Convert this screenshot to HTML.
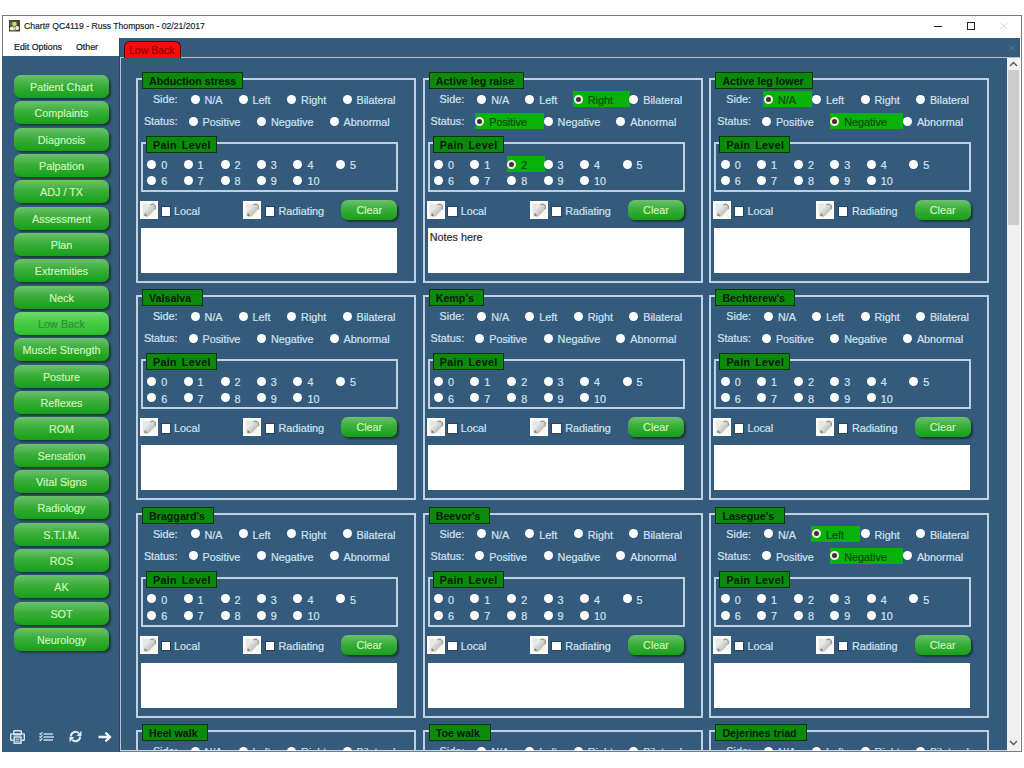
<!DOCTYPE html><html><head><meta charset="utf-8"><style>
*{margin:0;padding:0;box-sizing:border-box}
html,body{width:1024px;height:768px;overflow:hidden;background:#fff;font-family:"Liberation Sans",sans-serif}
.a{position:absolute}
.t{position:absolute;white-space:nowrap;font-size:10.8px;color:#d2e2f0;line-height:12px;-webkit-text-stroke:0.2px currentColor}
.gb{position:absolute;border:2px solid #bdd1e2}
.hd{position:absolute;background:#0b8a0b;border:1px solid #073607;font-weight:bold;font-size:10.7px;color:#031a03;line-height:16.4px;white-space:nowrap;padding-left:6px}
.r{position:absolute;width:9px;height:9px;border-radius:50%;background:#fff}
.rs{position:absolute;width:9px;height:9px;border-radius:50%;background:#3a2f36;border:2px solid #f4f0e0}
.hl{position:absolute;background:#08b208;height:16.6px}
.tk{color:#084a08}
.cl{border-radius:9px;box-shadow:2px 1.5px 1.5px #122a2a;color:#d0f6c0;font-size:11px}
.nb{position:absolute;left:14px;width:95px;height:23px;border-radius:7px;background:linear-gradient(#6cc16c,#3aae3a 45%,#16a018);box-shadow:2px 2px 2px #1c3a38;color:#d2f8bc;font-size:10.8px;text-align:center;line-height:24.4px;white-space:nowrap;-webkit-text-stroke:0.15px currentColor}
.cb{position:absolute;width:8.5px;height:8.5px;background:#fff;box-shadow:0 0 0 1px #2b4258}
.pen{position:absolute;width:18px;height:18px;background:#fcfcfc}
.nt{position:absolute;background:#fff}
</style></head><body><div class="a" style="left:2px;top:15px;width:1020px;height:737px;border:1px solid #7a7a80;background:#fff"></div>
<svg class="a" style="left:9px;top:20px" width="11" height="12"><rect x="0" y="0" width="11" height="11.5" fill="#4e4226"/><rect x="1" y="1.5" width="3" height="4" fill="#6a5a90"/><circle cx="5.5" cy="4" r="2.3" fill="#c8e060"/><ellipse cx="3" cy="8.6" rx="2.2" ry="2" fill="#eef0e0"/><ellipse cx="8.2" cy="8" rx="1.8" ry="2" fill="#f4f4f0"/><rect x="4.5" y="6.5" width="2" height="4" fill="#c0c8b0"/></svg>
<div class="t" style="left:24px;top:20.2px;font-size:9.8px;color:#1e1e1e;transform:scaleX(0.88);transform-origin:0 0">Chart# QC4119 - Russ Thompson - 02/21/2017</div>
<div class="a" style="left:934px;top:26px;width:8px;height:1px;background:#222"></div>
<div class="a" style="left:967px;top:22px;width:8px;height:8px;border:1px solid #222"></div>
<svg class="a" style="left:1000px;top:22px" width="8" height="8"><path d="M0.5 0.5L7 7M7 0.5L0.5 7" stroke="#d4d4d4" stroke-width="1"/></svg>
<div class="t" style="left:13.5px;top:41px;font-size:9.8px;color:#141414;transform:scaleX(0.9);transform-origin:0 0">Edit Options</div>
<div class="t" style="left:75.5px;top:41px;font-size:9.8px;color:#141414;transform:scaleX(0.9);transform-origin:0 0">Other</div>
<div class="a" style="left:2px;top:55.5px;width:117px;height:696.5px;background:#345b7c"></div>
<div class="a" style="left:119px;top:38px;width:1px;height:714px;background:#2a4660"></div>
<div class="a" style="left:120px;top:38px;width:900px;height:20px;background:#345b7c"></div>
<div class="a" style="left:120px;top:57px;width:900px;height:1px;background:#c8b8c0"></div>
<div class="a" style="left:124px;top:41px;width:57px;height:17px;background:#ff0a0a;border:1px solid #5a0000;border-bottom:none;border-radius:6px 6px 0 0"></div>
<div class="t" style="left:129px;top:43.6px;color:#8a0000;font-size:10.5px">Low Back</div>
<div class="a" style="left:120px;top:58px;width:887px;height:693px;background:#345b7c;overflow:hidden" id="content">
<div class="a" style="left:0;top:0;width:1px;height:693px;background:#b8c4d0"></div>
<div class="a" style="left:0;top:692px;width:887px;height:1px;background:#c8d8e8"></div>
<div class="gb" style="left:16.0px;top:20.0px;width:280px;height:205px"></div>
<div class="hd" style="left:22.0px;top:14.0px;width:101px;height:17px">Abduction stress</div>
<div class="t" style="left:16.0px;top:35.0px;width:41.5px;text-align:right">Side:</div>
<div class="t" style="left:16.0px;top:57.0px;width:41.5px;text-align:right">Status:</div>
<div class="r" style="left:70.5px;top:36.5px"></div>
<div class="t" style="left:84.5px;top:36.0px">N/A</div>
<div class="r" style="left:118.5px;top:36.5px"></div>
<div class="t" style="left:132.5px;top:36.0px">Left</div>
<div class="r" style="left:167.1px;top:36.5px"></div>
<div class="t" style="left:181.1px;top:36.0px">Right</div>
<div class="r" style="left:222.5px;top:36.5px"></div>
<div class="t" style="left:236.5px;top:36.0px">Bilateral</div>
<div class="r" style="left:68.5px;top:58.5px"></div>
<div class="t" style="left:82.5px;top:58.0px">Positive</div>
<div class="r" style="left:136.9px;top:58.5px"></div>
<div class="t" style="left:150.9px;top:58.0px">Negative</div>
<div class="r" style="left:209.5px;top:58.5px"></div>
<div class="t" style="left:223.5px;top:58.0px">Abnormal</div>
<div class="gb" style="left:21.0px;top:84.0px;width:257px;height:50px"></div>
<div class="hd" style="left:26.0px;top:78.0px;width:71px;height:17px;word-spacing:1.5px;letter-spacing:0.35px">Pain Level</div>
<div class="r" style="left:27.3px;top:101.5px"></div>
<div class="t" style="left:41.3px;top:101.0px">0</div>
<div class="r" style="left:63.5px;top:101.5px"></div>
<div class="t" style="left:77.5px;top:101.0px">1</div>
<div class="r" style="left:100.5px;top:101.5px"></div>
<div class="t" style="left:114.5px;top:101.0px">2</div>
<div class="r" style="left:136.8px;top:101.5px"></div>
<div class="t" style="left:150.8px;top:101.0px">3</div>
<div class="r" style="left:173.4px;top:101.5px"></div>
<div class="t" style="left:187.4px;top:101.0px">4</div>
<div class="r" style="left:215.9px;top:101.5px"></div>
<div class="t" style="left:229.9px;top:101.0px">5</div>
<div class="r" style="left:27.3px;top:117.8px"></div>
<div class="t" style="left:41.3px;top:117.3px">6</div>
<div class="r" style="left:63.5px;top:117.8px"></div>
<div class="t" style="left:77.5px;top:117.3px">7</div>
<div class="r" style="left:100.5px;top:117.8px"></div>
<div class="t" style="left:114.5px;top:117.3px">8</div>
<div class="r" style="left:136.8px;top:117.8px"></div>
<div class="t" style="left:150.8px;top:117.3px">9</div>
<div class="r" style="left:173.4px;top:117.8px"></div>
<div class="t" style="left:187.4px;top:117.3px">10</div>
<div class="pen" style="left:20.0px;top:143.0px"><svg width="18" height="18"><defs><linearGradient id="pg" x1="0" y1="0" x2="0" y2="1"><stop offset="0" stop-color="#e4e6e4"/><stop offset="1" stop-color="#c0beb6"/></linearGradient><linearGradient id="pb" x1="0" y1="0" x2="1" y2="1"><stop offset="0" stop-color="#e2e4e2"/><stop offset="1" stop-color="#fafaf8"/></linearGradient></defs><rect x="2.5" y="2.5" width="13.5" height="13" fill="url(#pb)"/><g transform="rotate(-47 9.5 9.5)"><path d="M2 9.5Q2 6.2 6 6.2L14.5 6.2Q17 6.5 17 9.5Q17 12.5 14.5 12.8L6 12.8Q2 12.8 2 9.5Z" fill="url(#pg)"/><path d="M14 6.4Q17 6.8 17 9.5Q17 12.2 14 12.6" stroke="#9a9588" stroke-width="1" fill="none"/><path d="M2 9.5L4.4 7.8L4.4 11.2Z" fill="#7e7a6e"/></g></svg></div>
<div class="cb" style="left:41.5px;top:149.0px"></div>
<div class="t" style="left:54.0px;top:147.0px">Local</div>
<div class="pen" style="left:123.0px;top:143.0px"><svg width="18" height="18"><defs><linearGradient id="pg" x1="0" y1="0" x2="0" y2="1"><stop offset="0" stop-color="#e4e6e4"/><stop offset="1" stop-color="#c0beb6"/></linearGradient><linearGradient id="pb" x1="0" y1="0" x2="1" y2="1"><stop offset="0" stop-color="#e2e4e2"/><stop offset="1" stop-color="#fafaf8"/></linearGradient></defs><rect x="2.5" y="2.5" width="13.5" height="13" fill="url(#pb)"/><g transform="rotate(-47 9.5 9.5)"><path d="M2 9.5Q2 6.2 6 6.2L14.5 6.2Q17 6.5 17 9.5Q17 12.5 14.5 12.8L6 12.8Q2 12.8 2 9.5Z" fill="url(#pg)"/><path d="M14 6.4Q17 6.8 17 9.5Q17 12.2 14 12.6" stroke="#9a9588" stroke-width="1" fill="none"/><path d="M2 9.5L4.4 7.8L4.4 11.2Z" fill="#7e7a6e"/></g></svg></div>
<div class="cb" style="left:145.5px;top:149.0px"></div>
<div class="t" style="left:158.5px;top:147.0px">Radiating</div>
<div class="nb cl" style="left:221.3px;top:142.0px;width:56px;height:20px;line-height:20px">Clear</div>
<div class="nt" style="left:21.0px;top:170.0px;width:256px;height:45px"><div class="t" style="left:2px;top:3px;color:#2a2a2a"></div></div>
<div class="gb" style="left:302.7px;top:20.0px;width:280px;height:205px"></div>
<div class="hd" style="left:308.7px;top:14.0px;width:95.5px;height:17px">Active leg raise</div>
<div class="t" style="left:302.7px;top:35.0px;width:41.5px;text-align:right">Side:</div>
<div class="t" style="left:302.7px;top:57.0px;width:41.5px;text-align:right">Status:</div>
<div class="r" style="left:357.2px;top:36.5px"></div>
<div class="t" style="left:371.2px;top:36.0px">N/A</div>
<div class="r" style="left:405.2px;top:36.5px"></div>
<div class="t" style="left:419.2px;top:36.0px">Left</div>
<div class="hl" style="left:453.29999999999995px;top:32.8px;width:56.6px"></div>
<div class="rs" style="left:453.79999999999995px;top:36.5px"></div>
<div class="t tk" style="left:467.79999999999995px;top:36.0px">Right</div>
<div class="r" style="left:509.20000000000005px;top:36.5px"></div>
<div class="t" style="left:523.2px;top:36.0px">Bilateral</div>
<div class="hl" style="left:354.7px;top:54.8px;width:69.5px"></div>
<div class="rs" style="left:355.2px;top:58.5px"></div>
<div class="t tk" style="left:369.2px;top:58.0px">Positive</div>
<div class="r" style="left:423.6px;top:58.5px"></div>
<div class="t" style="left:437.6px;top:58.0px">Negative</div>
<div class="r" style="left:496.2px;top:58.5px"></div>
<div class="t" style="left:510.2px;top:58.0px">Abnormal</div>
<div class="gb" style="left:307.7px;top:84.0px;width:257px;height:50px"></div>
<div class="hd" style="left:312.7px;top:78.0px;width:71px;height:17px;word-spacing:1.5px;letter-spacing:0.35px">Pain Level</div>
<div class="r" style="left:314.0px;top:101.5px"></div>
<div class="t" style="left:328.0px;top:101.0px">0</div>
<div class="r" style="left:350.2px;top:101.5px"></div>
<div class="t" style="left:364.2px;top:101.0px">1</div>
<div class="hl" style="left:386.7px;top:97.8px;width:38px"></div>
<div class="rs" style="left:387.2px;top:101.5px"></div>
<div class="t tk" style="left:401.2px;top:101.0px">2</div>
<div class="r" style="left:423.5px;top:101.5px"></div>
<div class="t" style="left:437.5px;top:101.0px">3</div>
<div class="r" style="left:460.1px;top:101.5px"></div>
<div class="t" style="left:474.1px;top:101.0px">4</div>
<div class="r" style="left:502.6px;top:101.5px"></div>
<div class="t" style="left:516.6px;top:101.0px">5</div>
<div class="r" style="left:314.0px;top:117.8px"></div>
<div class="t" style="left:328.0px;top:117.3px">6</div>
<div class="r" style="left:350.2px;top:117.8px"></div>
<div class="t" style="left:364.2px;top:117.3px">7</div>
<div class="r" style="left:387.2px;top:117.8px"></div>
<div class="t" style="left:401.2px;top:117.3px">8</div>
<div class="r" style="left:423.5px;top:117.8px"></div>
<div class="t" style="left:437.5px;top:117.3px">9</div>
<div class="r" style="left:460.1px;top:117.8px"></div>
<div class="t" style="left:474.1px;top:117.3px">10</div>
<div class="pen" style="left:306.7px;top:143.0px"><svg width="18" height="18"><defs><linearGradient id="pg" x1="0" y1="0" x2="0" y2="1"><stop offset="0" stop-color="#e4e6e4"/><stop offset="1" stop-color="#c0beb6"/></linearGradient><linearGradient id="pb" x1="0" y1="0" x2="1" y2="1"><stop offset="0" stop-color="#e2e4e2"/><stop offset="1" stop-color="#fafaf8"/></linearGradient></defs><rect x="2.5" y="2.5" width="13.5" height="13" fill="url(#pb)"/><g transform="rotate(-47 9.5 9.5)"><path d="M2 9.5Q2 6.2 6 6.2L14.5 6.2Q17 6.5 17 9.5Q17 12.5 14.5 12.8L6 12.8Q2 12.8 2 9.5Z" fill="url(#pg)"/><path d="M14 6.4Q17 6.8 17 9.5Q17 12.2 14 12.6" stroke="#9a9588" stroke-width="1" fill="none"/><path d="M2 9.5L4.4 7.8L4.4 11.2Z" fill="#7e7a6e"/></g></svg></div>
<div class="cb" style="left:328.2px;top:149.0px"></div>
<div class="t" style="left:340.7px;top:147.0px">Local</div>
<div class="pen" style="left:409.7px;top:143.0px"><svg width="18" height="18"><defs><linearGradient id="pg" x1="0" y1="0" x2="0" y2="1"><stop offset="0" stop-color="#e4e6e4"/><stop offset="1" stop-color="#c0beb6"/></linearGradient><linearGradient id="pb" x1="0" y1="0" x2="1" y2="1"><stop offset="0" stop-color="#e2e4e2"/><stop offset="1" stop-color="#fafaf8"/></linearGradient></defs><rect x="2.5" y="2.5" width="13.5" height="13" fill="url(#pb)"/><g transform="rotate(-47 9.5 9.5)"><path d="M2 9.5Q2 6.2 6 6.2L14.5 6.2Q17 6.5 17 9.5Q17 12.5 14.5 12.8L6 12.8Q2 12.8 2 9.5Z" fill="url(#pg)"/><path d="M14 6.4Q17 6.8 17 9.5Q17 12.2 14 12.6" stroke="#9a9588" stroke-width="1" fill="none"/><path d="M2 9.5L4.4 7.8L4.4 11.2Z" fill="#7e7a6e"/></g></svg></div>
<div class="cb" style="left:432.2px;top:149.0px"></div>
<div class="t" style="left:445.2px;top:147.0px">Radiating</div>
<div class="nb cl" style="left:508.0px;top:142.0px;width:56px;height:20px;line-height:20px">Clear</div>
<div class="nt" style="left:307.7px;top:170.0px;width:256px;height:45px"><div class="t" style="left:2px;top:3px;color:#2a2a2a">Notes here</div></div>
<div class="gb" style="left:589.4px;top:20.0px;width:280px;height:205px"></div>
<div class="hd" style="left:595.4px;top:14.0px;width:97.5px;height:17px">Active leg lower</div>
<div class="t" style="left:589.4px;top:35.0px;width:41.5px;text-align:right">Side:</div>
<div class="t" style="left:589.4px;top:57.0px;width:41.5px;text-align:right">Status:</div>
<div class="hl" style="left:643.4px;top:32.8px;width:48.5px"></div>
<div class="rs" style="left:643.9px;top:36.5px"></div>
<div class="t tk" style="left:657.9px;top:36.0px">N/A</div>
<div class="r" style="left:691.9px;top:36.5px"></div>
<div class="t" style="left:705.9px;top:36.0px">Left</div>
<div class="r" style="left:740.5px;top:36.5px"></div>
<div class="t" style="left:754.5px;top:36.0px">Right</div>
<div class="r" style="left:795.9px;top:36.5px"></div>
<div class="t" style="left:809.9px;top:36.0px">Bilateral</div>
<div class="r" style="left:641.9px;top:58.5px"></div>
<div class="t" style="left:655.9px;top:58.0px">Positive</div>
<div class="hl" style="left:709.8px;top:54.8px;width:73px"></div>
<div class="rs" style="left:710.3px;top:58.5px"></div>
<div class="t tk" style="left:724.3px;top:58.0px">Negative</div>
<div class="r" style="left:782.9px;top:58.5px"></div>
<div class="t" style="left:796.9px;top:58.0px">Abnormal</div>
<div class="gb" style="left:594.4px;top:84.0px;width:257px;height:50px"></div>
<div class="hd" style="left:599.4px;top:78.0px;width:71px;height:17px;word-spacing:1.5px;letter-spacing:0.35px">Pain Level</div>
<div class="r" style="left:600.6999999999999px;top:101.5px"></div>
<div class="t" style="left:614.6999999999999px;top:101.0px">0</div>
<div class="r" style="left:636.9px;top:101.5px"></div>
<div class="t" style="left:650.9px;top:101.0px">1</div>
<div class="r" style="left:673.9px;top:101.5px"></div>
<div class="t" style="left:687.9px;top:101.0px">2</div>
<div class="r" style="left:710.1999999999999px;top:101.5px"></div>
<div class="t" style="left:724.1999999999999px;top:101.0px">3</div>
<div class="r" style="left:746.8px;top:101.5px"></div>
<div class="t" style="left:760.8px;top:101.0px">4</div>
<div class="r" style="left:789.3px;top:101.5px"></div>
<div class="t" style="left:803.3px;top:101.0px">5</div>
<div class="r" style="left:600.6999999999999px;top:117.8px"></div>
<div class="t" style="left:614.6999999999999px;top:117.3px">6</div>
<div class="r" style="left:636.9px;top:117.8px"></div>
<div class="t" style="left:650.9px;top:117.3px">7</div>
<div class="r" style="left:673.9px;top:117.8px"></div>
<div class="t" style="left:687.9px;top:117.3px">8</div>
<div class="r" style="left:710.1999999999999px;top:117.8px"></div>
<div class="t" style="left:724.1999999999999px;top:117.3px">9</div>
<div class="r" style="left:746.8px;top:117.8px"></div>
<div class="t" style="left:760.8px;top:117.3px">10</div>
<div class="pen" style="left:593.4px;top:143.0px"><svg width="18" height="18"><defs><linearGradient id="pg" x1="0" y1="0" x2="0" y2="1"><stop offset="0" stop-color="#e4e6e4"/><stop offset="1" stop-color="#c0beb6"/></linearGradient><linearGradient id="pb" x1="0" y1="0" x2="1" y2="1"><stop offset="0" stop-color="#e2e4e2"/><stop offset="1" stop-color="#fafaf8"/></linearGradient></defs><rect x="2.5" y="2.5" width="13.5" height="13" fill="url(#pb)"/><g transform="rotate(-47 9.5 9.5)"><path d="M2 9.5Q2 6.2 6 6.2L14.5 6.2Q17 6.5 17 9.5Q17 12.5 14.5 12.8L6 12.8Q2 12.8 2 9.5Z" fill="url(#pg)"/><path d="M14 6.4Q17 6.8 17 9.5Q17 12.2 14 12.6" stroke="#9a9588" stroke-width="1" fill="none"/><path d="M2 9.5L4.4 7.8L4.4 11.2Z" fill="#7e7a6e"/></g></svg></div>
<div class="cb" style="left:614.9px;top:149.0px"></div>
<div class="t" style="left:627.4px;top:147.0px">Local</div>
<div class="pen" style="left:696.4px;top:143.0px"><svg width="18" height="18"><defs><linearGradient id="pg" x1="0" y1="0" x2="0" y2="1"><stop offset="0" stop-color="#e4e6e4"/><stop offset="1" stop-color="#c0beb6"/></linearGradient><linearGradient id="pb" x1="0" y1="0" x2="1" y2="1"><stop offset="0" stop-color="#e2e4e2"/><stop offset="1" stop-color="#fafaf8"/></linearGradient></defs><rect x="2.5" y="2.5" width="13.5" height="13" fill="url(#pb)"/><g transform="rotate(-47 9.5 9.5)"><path d="M2 9.5Q2 6.2 6 6.2L14.5 6.2Q17 6.5 17 9.5Q17 12.5 14.5 12.8L6 12.8Q2 12.8 2 9.5Z" fill="url(#pg)"/><path d="M14 6.4Q17 6.8 17 9.5Q17 12.2 14 12.6" stroke="#9a9588" stroke-width="1" fill="none"/><path d="M2 9.5L4.4 7.8L4.4 11.2Z" fill="#7e7a6e"/></g></svg></div>
<div class="cb" style="left:718.9px;top:149.0px"></div>
<div class="t" style="left:731.9px;top:147.0px">Radiating</div>
<div class="nb cl" style="left:794.7px;top:142.0px;width:56px;height:20px;line-height:20px">Clear</div>
<div class="nt" style="left:594.4px;top:170.0px;width:256px;height:45px"><div class="t" style="left:2px;top:3px;color:#2a2a2a"></div></div>
<div class="gb" style="left:16.0px;top:237.3px;width:280px;height:205px"></div>
<div class="hd" style="left:22.0px;top:231.3px;width:61px;height:17px">Valsalva</div>
<div class="t" style="left:16.0px;top:252.3px;width:41.5px;text-align:right">Side:</div>
<div class="t" style="left:16.0px;top:274.3px;width:41.5px;text-align:right">Status:</div>
<div class="r" style="left:70.5px;top:253.8px"></div>
<div class="t" style="left:84.5px;top:253.3px">N/A</div>
<div class="r" style="left:118.5px;top:253.8px"></div>
<div class="t" style="left:132.5px;top:253.3px">Left</div>
<div class="r" style="left:167.1px;top:253.8px"></div>
<div class="t" style="left:181.1px;top:253.3px">Right</div>
<div class="r" style="left:222.5px;top:253.8px"></div>
<div class="t" style="left:236.5px;top:253.3px">Bilateral</div>
<div class="r" style="left:68.5px;top:275.8px"></div>
<div class="t" style="left:82.5px;top:275.3px">Positive</div>
<div class="r" style="left:136.9px;top:275.8px"></div>
<div class="t" style="left:150.9px;top:275.3px">Negative</div>
<div class="r" style="left:209.5px;top:275.8px"></div>
<div class="t" style="left:223.5px;top:275.3px">Abnormal</div>
<div class="gb" style="left:21.0px;top:301.3px;width:257px;height:50px"></div>
<div class="hd" style="left:26.0px;top:295.3px;width:71px;height:17px;word-spacing:1.5px;letter-spacing:0.35px">Pain Level</div>
<div class="r" style="left:27.3px;top:318.8px"></div>
<div class="t" style="left:41.3px;top:318.3px">0</div>
<div class="r" style="left:63.5px;top:318.8px"></div>
<div class="t" style="left:77.5px;top:318.3px">1</div>
<div class="r" style="left:100.5px;top:318.8px"></div>
<div class="t" style="left:114.5px;top:318.3px">2</div>
<div class="r" style="left:136.8px;top:318.8px"></div>
<div class="t" style="left:150.8px;top:318.3px">3</div>
<div class="r" style="left:173.4px;top:318.8px"></div>
<div class="t" style="left:187.4px;top:318.3px">4</div>
<div class="r" style="left:215.9px;top:318.8px"></div>
<div class="t" style="left:229.9px;top:318.3px">5</div>
<div class="r" style="left:27.3px;top:335.1px"></div>
<div class="t" style="left:41.3px;top:334.6px">6</div>
<div class="r" style="left:63.5px;top:335.1px"></div>
<div class="t" style="left:77.5px;top:334.6px">7</div>
<div class="r" style="left:100.5px;top:335.1px"></div>
<div class="t" style="left:114.5px;top:334.6px">8</div>
<div class="r" style="left:136.8px;top:335.1px"></div>
<div class="t" style="left:150.8px;top:334.6px">9</div>
<div class="r" style="left:173.4px;top:335.1px"></div>
<div class="t" style="left:187.4px;top:334.6px">10</div>
<div class="pen" style="left:20.0px;top:360.3px"><svg width="18" height="18"><defs><linearGradient id="pg" x1="0" y1="0" x2="0" y2="1"><stop offset="0" stop-color="#e4e6e4"/><stop offset="1" stop-color="#c0beb6"/></linearGradient><linearGradient id="pb" x1="0" y1="0" x2="1" y2="1"><stop offset="0" stop-color="#e2e4e2"/><stop offset="1" stop-color="#fafaf8"/></linearGradient></defs><rect x="2.5" y="2.5" width="13.5" height="13" fill="url(#pb)"/><g transform="rotate(-47 9.5 9.5)"><path d="M2 9.5Q2 6.2 6 6.2L14.5 6.2Q17 6.5 17 9.5Q17 12.5 14.5 12.8L6 12.8Q2 12.8 2 9.5Z" fill="url(#pg)"/><path d="M14 6.4Q17 6.8 17 9.5Q17 12.2 14 12.6" stroke="#9a9588" stroke-width="1" fill="none"/><path d="M2 9.5L4.4 7.8L4.4 11.2Z" fill="#7e7a6e"/></g></svg></div>
<div class="cb" style="left:41.5px;top:366.3px"></div>
<div class="t" style="left:54.0px;top:364.3px">Local</div>
<div class="pen" style="left:123.0px;top:360.3px"><svg width="18" height="18"><defs><linearGradient id="pg" x1="0" y1="0" x2="0" y2="1"><stop offset="0" stop-color="#e4e6e4"/><stop offset="1" stop-color="#c0beb6"/></linearGradient><linearGradient id="pb" x1="0" y1="0" x2="1" y2="1"><stop offset="0" stop-color="#e2e4e2"/><stop offset="1" stop-color="#fafaf8"/></linearGradient></defs><rect x="2.5" y="2.5" width="13.5" height="13" fill="url(#pb)"/><g transform="rotate(-47 9.5 9.5)"><path d="M2 9.5Q2 6.2 6 6.2L14.5 6.2Q17 6.5 17 9.5Q17 12.5 14.5 12.8L6 12.8Q2 12.8 2 9.5Z" fill="url(#pg)"/><path d="M14 6.4Q17 6.8 17 9.5Q17 12.2 14 12.6" stroke="#9a9588" stroke-width="1" fill="none"/><path d="M2 9.5L4.4 7.8L4.4 11.2Z" fill="#7e7a6e"/></g></svg></div>
<div class="cb" style="left:145.5px;top:366.3px"></div>
<div class="t" style="left:158.5px;top:364.3px">Radiating</div>
<div class="nb cl" style="left:221.3px;top:359.3px;width:56px;height:20px;line-height:20px">Clear</div>
<div class="nt" style="left:21.0px;top:387.3px;width:256px;height:45px"><div class="t" style="left:2px;top:3px;color:#2a2a2a"></div></div>
<div class="gb" style="left:302.7px;top:237.3px;width:280px;height:205px"></div>
<div class="hd" style="left:308.7px;top:231.3px;width:55px;height:17px">Kemp's</div>
<div class="t" style="left:302.7px;top:252.3px;width:41.5px;text-align:right">Side:</div>
<div class="t" style="left:302.7px;top:274.3px;width:41.5px;text-align:right">Status:</div>
<div class="r" style="left:357.2px;top:253.8px"></div>
<div class="t" style="left:371.2px;top:253.3px">N/A</div>
<div class="r" style="left:405.2px;top:253.8px"></div>
<div class="t" style="left:419.2px;top:253.3px">Left</div>
<div class="r" style="left:453.79999999999995px;top:253.8px"></div>
<div class="t" style="left:467.79999999999995px;top:253.3px">Right</div>
<div class="r" style="left:509.20000000000005px;top:253.8px"></div>
<div class="t" style="left:523.2px;top:253.3px">Bilateral</div>
<div class="r" style="left:355.2px;top:275.8px"></div>
<div class="t" style="left:369.2px;top:275.3px">Positive</div>
<div class="r" style="left:423.6px;top:275.8px"></div>
<div class="t" style="left:437.6px;top:275.3px">Negative</div>
<div class="r" style="left:496.2px;top:275.8px"></div>
<div class="t" style="left:510.2px;top:275.3px">Abnormal</div>
<div class="gb" style="left:307.7px;top:301.3px;width:257px;height:50px"></div>
<div class="hd" style="left:312.7px;top:295.3px;width:71px;height:17px;word-spacing:1.5px;letter-spacing:0.35px">Pain Level</div>
<div class="r" style="left:314.0px;top:318.8px"></div>
<div class="t" style="left:328.0px;top:318.3px">0</div>
<div class="r" style="left:350.2px;top:318.8px"></div>
<div class="t" style="left:364.2px;top:318.3px">1</div>
<div class="r" style="left:387.2px;top:318.8px"></div>
<div class="t" style="left:401.2px;top:318.3px">2</div>
<div class="r" style="left:423.5px;top:318.8px"></div>
<div class="t" style="left:437.5px;top:318.3px">3</div>
<div class="r" style="left:460.1px;top:318.8px"></div>
<div class="t" style="left:474.1px;top:318.3px">4</div>
<div class="r" style="left:502.6px;top:318.8px"></div>
<div class="t" style="left:516.6px;top:318.3px">5</div>
<div class="r" style="left:314.0px;top:335.1px"></div>
<div class="t" style="left:328.0px;top:334.6px">6</div>
<div class="r" style="left:350.2px;top:335.1px"></div>
<div class="t" style="left:364.2px;top:334.6px">7</div>
<div class="r" style="left:387.2px;top:335.1px"></div>
<div class="t" style="left:401.2px;top:334.6px">8</div>
<div class="r" style="left:423.5px;top:335.1px"></div>
<div class="t" style="left:437.5px;top:334.6px">9</div>
<div class="r" style="left:460.1px;top:335.1px"></div>
<div class="t" style="left:474.1px;top:334.6px">10</div>
<div class="pen" style="left:306.7px;top:360.3px"><svg width="18" height="18"><defs><linearGradient id="pg" x1="0" y1="0" x2="0" y2="1"><stop offset="0" stop-color="#e4e6e4"/><stop offset="1" stop-color="#c0beb6"/></linearGradient><linearGradient id="pb" x1="0" y1="0" x2="1" y2="1"><stop offset="0" stop-color="#e2e4e2"/><stop offset="1" stop-color="#fafaf8"/></linearGradient></defs><rect x="2.5" y="2.5" width="13.5" height="13" fill="url(#pb)"/><g transform="rotate(-47 9.5 9.5)"><path d="M2 9.5Q2 6.2 6 6.2L14.5 6.2Q17 6.5 17 9.5Q17 12.5 14.5 12.8L6 12.8Q2 12.8 2 9.5Z" fill="url(#pg)"/><path d="M14 6.4Q17 6.8 17 9.5Q17 12.2 14 12.6" stroke="#9a9588" stroke-width="1" fill="none"/><path d="M2 9.5L4.4 7.8L4.4 11.2Z" fill="#7e7a6e"/></g></svg></div>
<div class="cb" style="left:328.2px;top:366.3px"></div>
<div class="t" style="left:340.7px;top:364.3px">Local</div>
<div class="pen" style="left:409.7px;top:360.3px"><svg width="18" height="18"><defs><linearGradient id="pg" x1="0" y1="0" x2="0" y2="1"><stop offset="0" stop-color="#e4e6e4"/><stop offset="1" stop-color="#c0beb6"/></linearGradient><linearGradient id="pb" x1="0" y1="0" x2="1" y2="1"><stop offset="0" stop-color="#e2e4e2"/><stop offset="1" stop-color="#fafaf8"/></linearGradient></defs><rect x="2.5" y="2.5" width="13.5" height="13" fill="url(#pb)"/><g transform="rotate(-47 9.5 9.5)"><path d="M2 9.5Q2 6.2 6 6.2L14.5 6.2Q17 6.5 17 9.5Q17 12.5 14.5 12.8L6 12.8Q2 12.8 2 9.5Z" fill="url(#pg)"/><path d="M14 6.4Q17 6.8 17 9.5Q17 12.2 14 12.6" stroke="#9a9588" stroke-width="1" fill="none"/><path d="M2 9.5L4.4 7.8L4.4 11.2Z" fill="#7e7a6e"/></g></svg></div>
<div class="cb" style="left:432.2px;top:366.3px"></div>
<div class="t" style="left:445.2px;top:364.3px">Radiating</div>
<div class="nb cl" style="left:508.0px;top:359.3px;width:56px;height:20px;line-height:20px">Clear</div>
<div class="nt" style="left:307.7px;top:387.3px;width:256px;height:45px"><div class="t" style="left:2px;top:3px;color:#2a2a2a"></div></div>
<div class="gb" style="left:589.4px;top:237.3px;width:280px;height:205px"></div>
<div class="hd" style="left:595.4px;top:231.3px;width:80px;height:17px">Bechterew's</div>
<div class="t" style="left:589.4px;top:252.3px;width:41.5px;text-align:right">Side:</div>
<div class="t" style="left:589.4px;top:274.3px;width:41.5px;text-align:right">Status:</div>
<div class="r" style="left:643.9px;top:253.8px"></div>
<div class="t" style="left:657.9px;top:253.3px">N/A</div>
<div class="r" style="left:691.9px;top:253.8px"></div>
<div class="t" style="left:705.9px;top:253.3px">Left</div>
<div class="r" style="left:740.5px;top:253.8px"></div>
<div class="t" style="left:754.5px;top:253.3px">Right</div>
<div class="r" style="left:795.9px;top:253.8px"></div>
<div class="t" style="left:809.9px;top:253.3px">Bilateral</div>
<div class="r" style="left:641.9px;top:275.8px"></div>
<div class="t" style="left:655.9px;top:275.3px">Positive</div>
<div class="r" style="left:710.3px;top:275.8px"></div>
<div class="t" style="left:724.3px;top:275.3px">Negative</div>
<div class="r" style="left:782.9px;top:275.8px"></div>
<div class="t" style="left:796.9px;top:275.3px">Abnormal</div>
<div class="gb" style="left:594.4px;top:301.3px;width:257px;height:50px"></div>
<div class="hd" style="left:599.4px;top:295.3px;width:71px;height:17px;word-spacing:1.5px;letter-spacing:0.35px">Pain Level</div>
<div class="r" style="left:600.6999999999999px;top:318.8px"></div>
<div class="t" style="left:614.6999999999999px;top:318.3px">0</div>
<div class="r" style="left:636.9px;top:318.8px"></div>
<div class="t" style="left:650.9px;top:318.3px">1</div>
<div class="r" style="left:673.9px;top:318.8px"></div>
<div class="t" style="left:687.9px;top:318.3px">2</div>
<div class="r" style="left:710.1999999999999px;top:318.8px"></div>
<div class="t" style="left:724.1999999999999px;top:318.3px">3</div>
<div class="r" style="left:746.8px;top:318.8px"></div>
<div class="t" style="left:760.8px;top:318.3px">4</div>
<div class="r" style="left:789.3px;top:318.8px"></div>
<div class="t" style="left:803.3px;top:318.3px">5</div>
<div class="r" style="left:600.6999999999999px;top:335.1px"></div>
<div class="t" style="left:614.6999999999999px;top:334.6px">6</div>
<div class="r" style="left:636.9px;top:335.1px"></div>
<div class="t" style="left:650.9px;top:334.6px">7</div>
<div class="r" style="left:673.9px;top:335.1px"></div>
<div class="t" style="left:687.9px;top:334.6px">8</div>
<div class="r" style="left:710.1999999999999px;top:335.1px"></div>
<div class="t" style="left:724.1999999999999px;top:334.6px">9</div>
<div class="r" style="left:746.8px;top:335.1px"></div>
<div class="t" style="left:760.8px;top:334.6px">10</div>
<div class="pen" style="left:593.4px;top:360.3px"><svg width="18" height="18"><defs><linearGradient id="pg" x1="0" y1="0" x2="0" y2="1"><stop offset="0" stop-color="#e4e6e4"/><stop offset="1" stop-color="#c0beb6"/></linearGradient><linearGradient id="pb" x1="0" y1="0" x2="1" y2="1"><stop offset="0" stop-color="#e2e4e2"/><stop offset="1" stop-color="#fafaf8"/></linearGradient></defs><rect x="2.5" y="2.5" width="13.5" height="13" fill="url(#pb)"/><g transform="rotate(-47 9.5 9.5)"><path d="M2 9.5Q2 6.2 6 6.2L14.5 6.2Q17 6.5 17 9.5Q17 12.5 14.5 12.8L6 12.8Q2 12.8 2 9.5Z" fill="url(#pg)"/><path d="M14 6.4Q17 6.8 17 9.5Q17 12.2 14 12.6" stroke="#9a9588" stroke-width="1" fill="none"/><path d="M2 9.5L4.4 7.8L4.4 11.2Z" fill="#7e7a6e"/></g></svg></div>
<div class="cb" style="left:614.9px;top:366.3px"></div>
<div class="t" style="left:627.4px;top:364.3px">Local</div>
<div class="pen" style="left:696.4px;top:360.3px"><svg width="18" height="18"><defs><linearGradient id="pg" x1="0" y1="0" x2="0" y2="1"><stop offset="0" stop-color="#e4e6e4"/><stop offset="1" stop-color="#c0beb6"/></linearGradient><linearGradient id="pb" x1="0" y1="0" x2="1" y2="1"><stop offset="0" stop-color="#e2e4e2"/><stop offset="1" stop-color="#fafaf8"/></linearGradient></defs><rect x="2.5" y="2.5" width="13.5" height="13" fill="url(#pb)"/><g transform="rotate(-47 9.5 9.5)"><path d="M2 9.5Q2 6.2 6 6.2L14.5 6.2Q17 6.5 17 9.5Q17 12.5 14.5 12.8L6 12.8Q2 12.8 2 9.5Z" fill="url(#pg)"/><path d="M14 6.4Q17 6.8 17 9.5Q17 12.2 14 12.6" stroke="#9a9588" stroke-width="1" fill="none"/><path d="M2 9.5L4.4 7.8L4.4 11.2Z" fill="#7e7a6e"/></g></svg></div>
<div class="cb" style="left:718.9px;top:366.3px"></div>
<div class="t" style="left:731.9px;top:364.3px">Radiating</div>
<div class="nb cl" style="left:794.7px;top:359.3px;width:56px;height:20px;line-height:20px">Clear</div>
<div class="nt" style="left:594.4px;top:387.3px;width:256px;height:45px"><div class="t" style="left:2px;top:3px;color:#2a2a2a"></div></div>
<div class="gb" style="left:16.0px;top:454.7px;width:280px;height:205px"></div>
<div class="hd" style="left:22.0px;top:448.7px;width:72px;height:17px">Braggard's</div>
<div class="t" style="left:16.0px;top:469.7px;width:41.5px;text-align:right">Side:</div>
<div class="t" style="left:16.0px;top:491.7px;width:41.5px;text-align:right">Status:</div>
<div class="r" style="left:70.5px;top:471.2px"></div>
<div class="t" style="left:84.5px;top:470.7px">N/A</div>
<div class="r" style="left:118.5px;top:471.2px"></div>
<div class="t" style="left:132.5px;top:470.7px">Left</div>
<div class="r" style="left:167.1px;top:471.2px"></div>
<div class="t" style="left:181.1px;top:470.7px">Right</div>
<div class="r" style="left:222.5px;top:471.2px"></div>
<div class="t" style="left:236.5px;top:470.7px">Bilateral</div>
<div class="r" style="left:68.5px;top:493.2px"></div>
<div class="t" style="left:82.5px;top:492.7px">Positive</div>
<div class="r" style="left:136.9px;top:493.2px"></div>
<div class="t" style="left:150.9px;top:492.7px">Negative</div>
<div class="r" style="left:209.5px;top:493.2px"></div>
<div class="t" style="left:223.5px;top:492.7px">Abnormal</div>
<div class="gb" style="left:21.0px;top:518.7px;width:257px;height:50px"></div>
<div class="hd" style="left:26.0px;top:512.7px;width:71px;height:17px;word-spacing:1.5px;letter-spacing:0.35px">Pain Level</div>
<div class="r" style="left:27.3px;top:536.2px"></div>
<div class="t" style="left:41.3px;top:535.7px">0</div>
<div class="r" style="left:63.5px;top:536.2px"></div>
<div class="t" style="left:77.5px;top:535.7px">1</div>
<div class="r" style="left:100.5px;top:536.2px"></div>
<div class="t" style="left:114.5px;top:535.7px">2</div>
<div class="r" style="left:136.8px;top:536.2px"></div>
<div class="t" style="left:150.8px;top:535.7px">3</div>
<div class="r" style="left:173.4px;top:536.2px"></div>
<div class="t" style="left:187.4px;top:535.7px">4</div>
<div class="r" style="left:215.9px;top:536.2px"></div>
<div class="t" style="left:229.9px;top:535.7px">5</div>
<div class="r" style="left:27.3px;top:552.5px"></div>
<div class="t" style="left:41.3px;top:552.0px">6</div>
<div class="r" style="left:63.5px;top:552.5px"></div>
<div class="t" style="left:77.5px;top:552.0px">7</div>
<div class="r" style="left:100.5px;top:552.5px"></div>
<div class="t" style="left:114.5px;top:552.0px">8</div>
<div class="r" style="left:136.8px;top:552.5px"></div>
<div class="t" style="left:150.8px;top:552.0px">9</div>
<div class="r" style="left:173.4px;top:552.5px"></div>
<div class="t" style="left:187.4px;top:552.0px">10</div>
<div class="pen" style="left:20.0px;top:577.7px"><svg width="18" height="18"><defs><linearGradient id="pg" x1="0" y1="0" x2="0" y2="1"><stop offset="0" stop-color="#e4e6e4"/><stop offset="1" stop-color="#c0beb6"/></linearGradient><linearGradient id="pb" x1="0" y1="0" x2="1" y2="1"><stop offset="0" stop-color="#e2e4e2"/><stop offset="1" stop-color="#fafaf8"/></linearGradient></defs><rect x="2.5" y="2.5" width="13.5" height="13" fill="url(#pb)"/><g transform="rotate(-47 9.5 9.5)"><path d="M2 9.5Q2 6.2 6 6.2L14.5 6.2Q17 6.5 17 9.5Q17 12.5 14.5 12.8L6 12.8Q2 12.8 2 9.5Z" fill="url(#pg)"/><path d="M14 6.4Q17 6.8 17 9.5Q17 12.2 14 12.6" stroke="#9a9588" stroke-width="1" fill="none"/><path d="M2 9.5L4.4 7.8L4.4 11.2Z" fill="#7e7a6e"/></g></svg></div>
<div class="cb" style="left:41.5px;top:583.7px"></div>
<div class="t" style="left:54.0px;top:581.7px">Local</div>
<div class="pen" style="left:123.0px;top:577.7px"><svg width="18" height="18"><defs><linearGradient id="pg" x1="0" y1="0" x2="0" y2="1"><stop offset="0" stop-color="#e4e6e4"/><stop offset="1" stop-color="#c0beb6"/></linearGradient><linearGradient id="pb" x1="0" y1="0" x2="1" y2="1"><stop offset="0" stop-color="#e2e4e2"/><stop offset="1" stop-color="#fafaf8"/></linearGradient></defs><rect x="2.5" y="2.5" width="13.5" height="13" fill="url(#pb)"/><g transform="rotate(-47 9.5 9.5)"><path d="M2 9.5Q2 6.2 6 6.2L14.5 6.2Q17 6.5 17 9.5Q17 12.5 14.5 12.8L6 12.8Q2 12.8 2 9.5Z" fill="url(#pg)"/><path d="M14 6.4Q17 6.8 17 9.5Q17 12.2 14 12.6" stroke="#9a9588" stroke-width="1" fill="none"/><path d="M2 9.5L4.4 7.8L4.4 11.2Z" fill="#7e7a6e"/></g></svg></div>
<div class="cb" style="left:145.5px;top:583.7px"></div>
<div class="t" style="left:158.5px;top:581.7px">Radiating</div>
<div class="nb cl" style="left:221.3px;top:576.7px;width:56px;height:20px;line-height:20px">Clear</div>
<div class="nt" style="left:21.0px;top:604.7px;width:256px;height:45px"><div class="t" style="left:2px;top:3px;color:#2a2a2a"></div></div>
<div class="gb" style="left:302.7px;top:454.7px;width:280px;height:205px"></div>
<div class="hd" style="left:308.7px;top:448.7px;width:61.5px;height:17px">Beevor's</div>
<div class="t" style="left:302.7px;top:469.7px;width:41.5px;text-align:right">Side:</div>
<div class="t" style="left:302.7px;top:491.7px;width:41.5px;text-align:right">Status:</div>
<div class="r" style="left:357.2px;top:471.2px"></div>
<div class="t" style="left:371.2px;top:470.7px">N/A</div>
<div class="r" style="left:405.2px;top:471.2px"></div>
<div class="t" style="left:419.2px;top:470.7px">Left</div>
<div class="r" style="left:453.79999999999995px;top:471.2px"></div>
<div class="t" style="left:467.79999999999995px;top:470.7px">Right</div>
<div class="r" style="left:509.20000000000005px;top:471.2px"></div>
<div class="t" style="left:523.2px;top:470.7px">Bilateral</div>
<div class="r" style="left:355.2px;top:493.2px"></div>
<div class="t" style="left:369.2px;top:492.7px">Positive</div>
<div class="r" style="left:423.6px;top:493.2px"></div>
<div class="t" style="left:437.6px;top:492.7px">Negative</div>
<div class="r" style="left:496.2px;top:493.2px"></div>
<div class="t" style="left:510.2px;top:492.7px">Abnormal</div>
<div class="gb" style="left:307.7px;top:518.7px;width:257px;height:50px"></div>
<div class="hd" style="left:312.7px;top:512.7px;width:71px;height:17px;word-spacing:1.5px;letter-spacing:0.35px">Pain Level</div>
<div class="r" style="left:314.0px;top:536.2px"></div>
<div class="t" style="left:328.0px;top:535.7px">0</div>
<div class="r" style="left:350.2px;top:536.2px"></div>
<div class="t" style="left:364.2px;top:535.7px">1</div>
<div class="r" style="left:387.2px;top:536.2px"></div>
<div class="t" style="left:401.2px;top:535.7px">2</div>
<div class="r" style="left:423.5px;top:536.2px"></div>
<div class="t" style="left:437.5px;top:535.7px">3</div>
<div class="r" style="left:460.1px;top:536.2px"></div>
<div class="t" style="left:474.1px;top:535.7px">4</div>
<div class="r" style="left:502.6px;top:536.2px"></div>
<div class="t" style="left:516.6px;top:535.7px">5</div>
<div class="r" style="left:314.0px;top:552.5px"></div>
<div class="t" style="left:328.0px;top:552.0px">6</div>
<div class="r" style="left:350.2px;top:552.5px"></div>
<div class="t" style="left:364.2px;top:552.0px">7</div>
<div class="r" style="left:387.2px;top:552.5px"></div>
<div class="t" style="left:401.2px;top:552.0px">8</div>
<div class="r" style="left:423.5px;top:552.5px"></div>
<div class="t" style="left:437.5px;top:552.0px">9</div>
<div class="r" style="left:460.1px;top:552.5px"></div>
<div class="t" style="left:474.1px;top:552.0px">10</div>
<div class="pen" style="left:306.7px;top:577.7px"><svg width="18" height="18"><defs><linearGradient id="pg" x1="0" y1="0" x2="0" y2="1"><stop offset="0" stop-color="#e4e6e4"/><stop offset="1" stop-color="#c0beb6"/></linearGradient><linearGradient id="pb" x1="0" y1="0" x2="1" y2="1"><stop offset="0" stop-color="#e2e4e2"/><stop offset="1" stop-color="#fafaf8"/></linearGradient></defs><rect x="2.5" y="2.5" width="13.5" height="13" fill="url(#pb)"/><g transform="rotate(-47 9.5 9.5)"><path d="M2 9.5Q2 6.2 6 6.2L14.5 6.2Q17 6.5 17 9.5Q17 12.5 14.5 12.8L6 12.8Q2 12.8 2 9.5Z" fill="url(#pg)"/><path d="M14 6.4Q17 6.8 17 9.5Q17 12.2 14 12.6" stroke="#9a9588" stroke-width="1" fill="none"/><path d="M2 9.5L4.4 7.8L4.4 11.2Z" fill="#7e7a6e"/></g></svg></div>
<div class="cb" style="left:328.2px;top:583.7px"></div>
<div class="t" style="left:340.7px;top:581.7px">Local</div>
<div class="pen" style="left:409.7px;top:577.7px"><svg width="18" height="18"><defs><linearGradient id="pg" x1="0" y1="0" x2="0" y2="1"><stop offset="0" stop-color="#e4e6e4"/><stop offset="1" stop-color="#c0beb6"/></linearGradient><linearGradient id="pb" x1="0" y1="0" x2="1" y2="1"><stop offset="0" stop-color="#e2e4e2"/><stop offset="1" stop-color="#fafaf8"/></linearGradient></defs><rect x="2.5" y="2.5" width="13.5" height="13" fill="url(#pb)"/><g transform="rotate(-47 9.5 9.5)"><path d="M2 9.5Q2 6.2 6 6.2L14.5 6.2Q17 6.5 17 9.5Q17 12.5 14.5 12.8L6 12.8Q2 12.8 2 9.5Z" fill="url(#pg)"/><path d="M14 6.4Q17 6.8 17 9.5Q17 12.2 14 12.6" stroke="#9a9588" stroke-width="1" fill="none"/><path d="M2 9.5L4.4 7.8L4.4 11.2Z" fill="#7e7a6e"/></g></svg></div>
<div class="cb" style="left:432.2px;top:583.7px"></div>
<div class="t" style="left:445.2px;top:581.7px">Radiating</div>
<div class="nb cl" style="left:508.0px;top:576.7px;width:56px;height:20px;line-height:20px">Clear</div>
<div class="nt" style="left:307.7px;top:604.7px;width:256px;height:45px"><div class="t" style="left:2px;top:3px;color:#2a2a2a"></div></div>
<div class="gb" style="left:589.4px;top:454.7px;width:280px;height:205px"></div>
<div class="hd" style="left:595.4px;top:448.7px;width:70px;height:17px">Lasegue's</div>
<div class="t" style="left:589.4px;top:469.7px;width:41.5px;text-align:right">Side:</div>
<div class="t" style="left:589.4px;top:491.7px;width:41.5px;text-align:right">Status:</div>
<div class="r" style="left:643.9px;top:471.2px"></div>
<div class="t" style="left:657.9px;top:470.7px">N/A</div>
<div class="hl" style="left:691.4px;top:467.5px;width:48.5px"></div>
<div class="rs" style="left:691.9px;top:471.2px"></div>
<div class="t tk" style="left:705.9px;top:470.7px">Left</div>
<div class="r" style="left:740.5px;top:471.2px"></div>
<div class="t" style="left:754.5px;top:470.7px">Right</div>
<div class="r" style="left:795.9px;top:471.2px"></div>
<div class="t" style="left:809.9px;top:470.7px">Bilateral</div>
<div class="r" style="left:641.9px;top:493.2px"></div>
<div class="t" style="left:655.9px;top:492.7px">Positive</div>
<div class="hl" style="left:709.8px;top:489.5px;width:73px"></div>
<div class="rs" style="left:710.3px;top:493.2px"></div>
<div class="t tk" style="left:724.3px;top:492.7px">Negative</div>
<div class="r" style="left:782.9px;top:493.2px"></div>
<div class="t" style="left:796.9px;top:492.7px">Abnormal</div>
<div class="gb" style="left:594.4px;top:518.7px;width:257px;height:50px"></div>
<div class="hd" style="left:599.4px;top:512.7px;width:71px;height:17px;word-spacing:1.5px;letter-spacing:0.35px">Pain Level</div>
<div class="r" style="left:600.6999999999999px;top:536.2px"></div>
<div class="t" style="left:614.6999999999999px;top:535.7px">0</div>
<div class="r" style="left:636.9px;top:536.2px"></div>
<div class="t" style="left:650.9px;top:535.7px">1</div>
<div class="r" style="left:673.9px;top:536.2px"></div>
<div class="t" style="left:687.9px;top:535.7px">2</div>
<div class="r" style="left:710.1999999999999px;top:536.2px"></div>
<div class="t" style="left:724.1999999999999px;top:535.7px">3</div>
<div class="r" style="left:746.8px;top:536.2px"></div>
<div class="t" style="left:760.8px;top:535.7px">4</div>
<div class="r" style="left:789.3px;top:536.2px"></div>
<div class="t" style="left:803.3px;top:535.7px">5</div>
<div class="r" style="left:600.6999999999999px;top:552.5px"></div>
<div class="t" style="left:614.6999999999999px;top:552.0px">6</div>
<div class="r" style="left:636.9px;top:552.5px"></div>
<div class="t" style="left:650.9px;top:552.0px">7</div>
<div class="r" style="left:673.9px;top:552.5px"></div>
<div class="t" style="left:687.9px;top:552.0px">8</div>
<div class="r" style="left:710.1999999999999px;top:552.5px"></div>
<div class="t" style="left:724.1999999999999px;top:552.0px">9</div>
<div class="r" style="left:746.8px;top:552.5px"></div>
<div class="t" style="left:760.8px;top:552.0px">10</div>
<div class="pen" style="left:593.4px;top:577.7px"><svg width="18" height="18"><defs><linearGradient id="pg" x1="0" y1="0" x2="0" y2="1"><stop offset="0" stop-color="#e4e6e4"/><stop offset="1" stop-color="#c0beb6"/></linearGradient><linearGradient id="pb" x1="0" y1="0" x2="1" y2="1"><stop offset="0" stop-color="#e2e4e2"/><stop offset="1" stop-color="#fafaf8"/></linearGradient></defs><rect x="2.5" y="2.5" width="13.5" height="13" fill="url(#pb)"/><g transform="rotate(-47 9.5 9.5)"><path d="M2 9.5Q2 6.2 6 6.2L14.5 6.2Q17 6.5 17 9.5Q17 12.5 14.5 12.8L6 12.8Q2 12.8 2 9.5Z" fill="url(#pg)"/><path d="M14 6.4Q17 6.8 17 9.5Q17 12.2 14 12.6" stroke="#9a9588" stroke-width="1" fill="none"/><path d="M2 9.5L4.4 7.8L4.4 11.2Z" fill="#7e7a6e"/></g></svg></div>
<div class="cb" style="left:614.9px;top:583.7px"></div>
<div class="t" style="left:627.4px;top:581.7px">Local</div>
<div class="pen" style="left:696.4px;top:577.7px"><svg width="18" height="18"><defs><linearGradient id="pg" x1="0" y1="0" x2="0" y2="1"><stop offset="0" stop-color="#e4e6e4"/><stop offset="1" stop-color="#c0beb6"/></linearGradient><linearGradient id="pb" x1="0" y1="0" x2="1" y2="1"><stop offset="0" stop-color="#e2e4e2"/><stop offset="1" stop-color="#fafaf8"/></linearGradient></defs><rect x="2.5" y="2.5" width="13.5" height="13" fill="url(#pb)"/><g transform="rotate(-47 9.5 9.5)"><path d="M2 9.5Q2 6.2 6 6.2L14.5 6.2Q17 6.5 17 9.5Q17 12.5 14.5 12.8L6 12.8Q2 12.8 2 9.5Z" fill="url(#pg)"/><path d="M14 6.4Q17 6.8 17 9.5Q17 12.2 14 12.6" stroke="#9a9588" stroke-width="1" fill="none"/><path d="M2 9.5L4.4 7.8L4.4 11.2Z" fill="#7e7a6e"/></g></svg></div>
<div class="cb" style="left:718.9px;top:583.7px"></div>
<div class="t" style="left:731.9px;top:581.7px">Radiating</div>
<div class="nb cl" style="left:794.7px;top:576.7px;width:56px;height:20px;line-height:20px">Clear</div>
<div class="nt" style="left:594.4px;top:604.7px;width:256px;height:45px"><div class="t" style="left:2px;top:3px;color:#2a2a2a"></div></div>
<div class="gb" style="left:16.0px;top:672.0px;width:280px;height:205px"></div>
<div class="hd" style="left:22.0px;top:666.0px;width:65.5px;height:17px">Heel walk</div>
<div class="t" style="left:16.0px;top:687.0px;width:41.5px;text-align:right">Side:</div>
<div class="t" style="left:16.0px;top:709.0px;width:41.5px;text-align:right">Status:</div>
<div class="r" style="left:70.5px;top:688.5px"></div>
<div class="t" style="left:84.5px;top:688.0px">N/A</div>
<div class="r" style="left:118.5px;top:688.5px"></div>
<div class="t" style="left:132.5px;top:688.0px">Left</div>
<div class="r" style="left:167.1px;top:688.5px"></div>
<div class="t" style="left:181.1px;top:688.0px">Right</div>
<div class="r" style="left:222.5px;top:688.5px"></div>
<div class="t" style="left:236.5px;top:688.0px">Bilateral</div>
<div class="r" style="left:68.5px;top:710.5px"></div>
<div class="t" style="left:82.5px;top:710.0px">Positive</div>
<div class="r" style="left:136.9px;top:710.5px"></div>
<div class="t" style="left:150.9px;top:710.0px">Negative</div>
<div class="r" style="left:209.5px;top:710.5px"></div>
<div class="t" style="left:223.5px;top:710.0px">Abnormal</div>
<div class="gb" style="left:21.0px;top:736.0px;width:257px;height:50px"></div>
<div class="hd" style="left:26.0px;top:730.0px;width:71px;height:17px;word-spacing:1.5px;letter-spacing:0.35px">Pain Level</div>
<div class="r" style="left:27.3px;top:753.5px"></div>
<div class="t" style="left:41.3px;top:753.0px">0</div>
<div class="r" style="left:63.5px;top:753.5px"></div>
<div class="t" style="left:77.5px;top:753.0px">1</div>
<div class="r" style="left:100.5px;top:753.5px"></div>
<div class="t" style="left:114.5px;top:753.0px">2</div>
<div class="r" style="left:136.8px;top:753.5px"></div>
<div class="t" style="left:150.8px;top:753.0px">3</div>
<div class="r" style="left:173.4px;top:753.5px"></div>
<div class="t" style="left:187.4px;top:753.0px">4</div>
<div class="r" style="left:215.9px;top:753.5px"></div>
<div class="t" style="left:229.9px;top:753.0px">5</div>
<div class="r" style="left:27.3px;top:769.8px"></div>
<div class="t" style="left:41.3px;top:769.3px">6</div>
<div class="r" style="left:63.5px;top:769.8px"></div>
<div class="t" style="left:77.5px;top:769.3px">7</div>
<div class="r" style="left:100.5px;top:769.8px"></div>
<div class="t" style="left:114.5px;top:769.3px">8</div>
<div class="r" style="left:136.8px;top:769.8px"></div>
<div class="t" style="left:150.8px;top:769.3px">9</div>
<div class="r" style="left:173.4px;top:769.8px"></div>
<div class="t" style="left:187.4px;top:769.3px">10</div>
<div class="pen" style="left:20.0px;top:795.0px"><svg width="18" height="18"><defs><linearGradient id="pg" x1="0" y1="0" x2="0" y2="1"><stop offset="0" stop-color="#e4e6e4"/><stop offset="1" stop-color="#c0beb6"/></linearGradient><linearGradient id="pb" x1="0" y1="0" x2="1" y2="1"><stop offset="0" stop-color="#e2e4e2"/><stop offset="1" stop-color="#fafaf8"/></linearGradient></defs><rect x="2.5" y="2.5" width="13.5" height="13" fill="url(#pb)"/><g transform="rotate(-47 9.5 9.5)"><path d="M2 9.5Q2 6.2 6 6.2L14.5 6.2Q17 6.5 17 9.5Q17 12.5 14.5 12.8L6 12.8Q2 12.8 2 9.5Z" fill="url(#pg)"/><path d="M14 6.4Q17 6.8 17 9.5Q17 12.2 14 12.6" stroke="#9a9588" stroke-width="1" fill="none"/><path d="M2 9.5L4.4 7.8L4.4 11.2Z" fill="#7e7a6e"/></g></svg></div>
<div class="cb" style="left:41.5px;top:801.0px"></div>
<div class="t" style="left:54.0px;top:799.0px">Local</div>
<div class="pen" style="left:123.0px;top:795.0px"><svg width="18" height="18"><defs><linearGradient id="pg" x1="0" y1="0" x2="0" y2="1"><stop offset="0" stop-color="#e4e6e4"/><stop offset="1" stop-color="#c0beb6"/></linearGradient><linearGradient id="pb" x1="0" y1="0" x2="1" y2="1"><stop offset="0" stop-color="#e2e4e2"/><stop offset="1" stop-color="#fafaf8"/></linearGradient></defs><rect x="2.5" y="2.5" width="13.5" height="13" fill="url(#pb)"/><g transform="rotate(-47 9.5 9.5)"><path d="M2 9.5Q2 6.2 6 6.2L14.5 6.2Q17 6.5 17 9.5Q17 12.5 14.5 12.8L6 12.8Q2 12.8 2 9.5Z" fill="url(#pg)"/><path d="M14 6.4Q17 6.8 17 9.5Q17 12.2 14 12.6" stroke="#9a9588" stroke-width="1" fill="none"/><path d="M2 9.5L4.4 7.8L4.4 11.2Z" fill="#7e7a6e"/></g></svg></div>
<div class="cb" style="left:145.5px;top:801.0px"></div>
<div class="t" style="left:158.5px;top:799.0px">Radiating</div>
<div class="nb cl" style="left:221.3px;top:794.0px;width:56px;height:20px;line-height:20px">Clear</div>
<div class="nt" style="left:21.0px;top:822.0px;width:256px;height:45px"><div class="t" style="left:2px;top:3px;color:#2a2a2a"></div></div>
<div class="gb" style="left:302.7px;top:672.0px;width:280px;height:205px"></div>
<div class="hd" style="left:308.7px;top:666.0px;width:62.5px;height:17px">Toe walk</div>
<div class="t" style="left:302.7px;top:687.0px;width:41.5px;text-align:right">Side:</div>
<div class="t" style="left:302.7px;top:709.0px;width:41.5px;text-align:right">Status:</div>
<div class="r" style="left:357.2px;top:688.5px"></div>
<div class="t" style="left:371.2px;top:688.0px">N/A</div>
<div class="r" style="left:405.2px;top:688.5px"></div>
<div class="t" style="left:419.2px;top:688.0px">Left</div>
<div class="r" style="left:453.79999999999995px;top:688.5px"></div>
<div class="t" style="left:467.79999999999995px;top:688.0px">Right</div>
<div class="r" style="left:509.20000000000005px;top:688.5px"></div>
<div class="t" style="left:523.2px;top:688.0px">Bilateral</div>
<div class="r" style="left:355.2px;top:710.5px"></div>
<div class="t" style="left:369.2px;top:710.0px">Positive</div>
<div class="r" style="left:423.6px;top:710.5px"></div>
<div class="t" style="left:437.6px;top:710.0px">Negative</div>
<div class="r" style="left:496.2px;top:710.5px"></div>
<div class="t" style="left:510.2px;top:710.0px">Abnormal</div>
<div class="gb" style="left:307.7px;top:736.0px;width:257px;height:50px"></div>
<div class="hd" style="left:312.7px;top:730.0px;width:71px;height:17px;word-spacing:1.5px;letter-spacing:0.35px">Pain Level</div>
<div class="r" style="left:314.0px;top:753.5px"></div>
<div class="t" style="left:328.0px;top:753.0px">0</div>
<div class="r" style="left:350.2px;top:753.5px"></div>
<div class="t" style="left:364.2px;top:753.0px">1</div>
<div class="r" style="left:387.2px;top:753.5px"></div>
<div class="t" style="left:401.2px;top:753.0px">2</div>
<div class="r" style="left:423.5px;top:753.5px"></div>
<div class="t" style="left:437.5px;top:753.0px">3</div>
<div class="r" style="left:460.1px;top:753.5px"></div>
<div class="t" style="left:474.1px;top:753.0px">4</div>
<div class="r" style="left:502.6px;top:753.5px"></div>
<div class="t" style="left:516.6px;top:753.0px">5</div>
<div class="r" style="left:314.0px;top:769.8px"></div>
<div class="t" style="left:328.0px;top:769.3px">6</div>
<div class="r" style="left:350.2px;top:769.8px"></div>
<div class="t" style="left:364.2px;top:769.3px">7</div>
<div class="r" style="left:387.2px;top:769.8px"></div>
<div class="t" style="left:401.2px;top:769.3px">8</div>
<div class="r" style="left:423.5px;top:769.8px"></div>
<div class="t" style="left:437.5px;top:769.3px">9</div>
<div class="r" style="left:460.1px;top:769.8px"></div>
<div class="t" style="left:474.1px;top:769.3px">10</div>
<div class="pen" style="left:306.7px;top:795.0px"><svg width="18" height="18"><defs><linearGradient id="pg" x1="0" y1="0" x2="0" y2="1"><stop offset="0" stop-color="#e4e6e4"/><stop offset="1" stop-color="#c0beb6"/></linearGradient><linearGradient id="pb" x1="0" y1="0" x2="1" y2="1"><stop offset="0" stop-color="#e2e4e2"/><stop offset="1" stop-color="#fafaf8"/></linearGradient></defs><rect x="2.5" y="2.5" width="13.5" height="13" fill="url(#pb)"/><g transform="rotate(-47 9.5 9.5)"><path d="M2 9.5Q2 6.2 6 6.2L14.5 6.2Q17 6.5 17 9.5Q17 12.5 14.5 12.8L6 12.8Q2 12.8 2 9.5Z" fill="url(#pg)"/><path d="M14 6.4Q17 6.8 17 9.5Q17 12.2 14 12.6" stroke="#9a9588" stroke-width="1" fill="none"/><path d="M2 9.5L4.4 7.8L4.4 11.2Z" fill="#7e7a6e"/></g></svg></div>
<div class="cb" style="left:328.2px;top:801.0px"></div>
<div class="t" style="left:340.7px;top:799.0px">Local</div>
<div class="pen" style="left:409.7px;top:795.0px"><svg width="18" height="18"><defs><linearGradient id="pg" x1="0" y1="0" x2="0" y2="1"><stop offset="0" stop-color="#e4e6e4"/><stop offset="1" stop-color="#c0beb6"/></linearGradient><linearGradient id="pb" x1="0" y1="0" x2="1" y2="1"><stop offset="0" stop-color="#e2e4e2"/><stop offset="1" stop-color="#fafaf8"/></linearGradient></defs><rect x="2.5" y="2.5" width="13.5" height="13" fill="url(#pb)"/><g transform="rotate(-47 9.5 9.5)"><path d="M2 9.5Q2 6.2 6 6.2L14.5 6.2Q17 6.5 17 9.5Q17 12.5 14.5 12.8L6 12.8Q2 12.8 2 9.5Z" fill="url(#pg)"/><path d="M14 6.4Q17 6.8 17 9.5Q17 12.2 14 12.6" stroke="#9a9588" stroke-width="1" fill="none"/><path d="M2 9.5L4.4 7.8L4.4 11.2Z" fill="#7e7a6e"/></g></svg></div>
<div class="cb" style="left:432.2px;top:801.0px"></div>
<div class="t" style="left:445.2px;top:799.0px">Radiating</div>
<div class="nb cl" style="left:508.0px;top:794.0px;width:56px;height:20px;line-height:20px">Clear</div>
<div class="nt" style="left:307.7px;top:822.0px;width:256px;height:45px"><div class="t" style="left:2px;top:3px;color:#2a2a2a"></div></div>
<div class="gb" style="left:589.4px;top:672.0px;width:280px;height:205px"></div>
<div class="hd" style="left:595.4px;top:666.0px;width:91.5px;height:17px">Dejerines triad</div>
<div class="t" style="left:589.4px;top:687.0px;width:41.5px;text-align:right">Side:</div>
<div class="t" style="left:589.4px;top:709.0px;width:41.5px;text-align:right">Status:</div>
<div class="r" style="left:643.9px;top:688.5px"></div>
<div class="t" style="left:657.9px;top:688.0px">N/A</div>
<div class="r" style="left:691.9px;top:688.5px"></div>
<div class="t" style="left:705.9px;top:688.0px">Left</div>
<div class="r" style="left:740.5px;top:688.5px"></div>
<div class="t" style="left:754.5px;top:688.0px">Right</div>
<div class="r" style="left:795.9px;top:688.5px"></div>
<div class="t" style="left:809.9px;top:688.0px">Bilateral</div>
<div class="r" style="left:641.9px;top:710.5px"></div>
<div class="t" style="left:655.9px;top:710.0px">Positive</div>
<div class="r" style="left:710.3px;top:710.5px"></div>
<div class="t" style="left:724.3px;top:710.0px">Negative</div>
<div class="r" style="left:782.9px;top:710.5px"></div>
<div class="t" style="left:796.9px;top:710.0px">Abnormal</div>
<div class="gb" style="left:594.4px;top:736.0px;width:257px;height:50px"></div>
<div class="hd" style="left:599.4px;top:730.0px;width:71px;height:17px;word-spacing:1.5px;letter-spacing:0.35px">Pain Level</div>
<div class="r" style="left:600.6999999999999px;top:753.5px"></div>
<div class="t" style="left:614.6999999999999px;top:753.0px">0</div>
<div class="r" style="left:636.9px;top:753.5px"></div>
<div class="t" style="left:650.9px;top:753.0px">1</div>
<div class="r" style="left:673.9px;top:753.5px"></div>
<div class="t" style="left:687.9px;top:753.0px">2</div>
<div class="r" style="left:710.1999999999999px;top:753.5px"></div>
<div class="t" style="left:724.1999999999999px;top:753.0px">3</div>
<div class="r" style="left:746.8px;top:753.5px"></div>
<div class="t" style="left:760.8px;top:753.0px">4</div>
<div class="r" style="left:789.3px;top:753.5px"></div>
<div class="t" style="left:803.3px;top:753.0px">5</div>
<div class="r" style="left:600.6999999999999px;top:769.8px"></div>
<div class="t" style="left:614.6999999999999px;top:769.3px">6</div>
<div class="r" style="left:636.9px;top:769.8px"></div>
<div class="t" style="left:650.9px;top:769.3px">7</div>
<div class="r" style="left:673.9px;top:769.8px"></div>
<div class="t" style="left:687.9px;top:769.3px">8</div>
<div class="r" style="left:710.1999999999999px;top:769.8px"></div>
<div class="t" style="left:724.1999999999999px;top:769.3px">9</div>
<div class="r" style="left:746.8px;top:769.8px"></div>
<div class="t" style="left:760.8px;top:769.3px">10</div>
<div class="pen" style="left:593.4px;top:795.0px"><svg width="18" height="18"><defs><linearGradient id="pg" x1="0" y1="0" x2="0" y2="1"><stop offset="0" stop-color="#e4e6e4"/><stop offset="1" stop-color="#c0beb6"/></linearGradient><linearGradient id="pb" x1="0" y1="0" x2="1" y2="1"><stop offset="0" stop-color="#e2e4e2"/><stop offset="1" stop-color="#fafaf8"/></linearGradient></defs><rect x="2.5" y="2.5" width="13.5" height="13" fill="url(#pb)"/><g transform="rotate(-47 9.5 9.5)"><path d="M2 9.5Q2 6.2 6 6.2L14.5 6.2Q17 6.5 17 9.5Q17 12.5 14.5 12.8L6 12.8Q2 12.8 2 9.5Z" fill="url(#pg)"/><path d="M14 6.4Q17 6.8 17 9.5Q17 12.2 14 12.6" stroke="#9a9588" stroke-width="1" fill="none"/><path d="M2 9.5L4.4 7.8L4.4 11.2Z" fill="#7e7a6e"/></g></svg></div>
<div class="cb" style="left:614.9px;top:801.0px"></div>
<div class="t" style="left:627.4px;top:799.0px">Local</div>
<div class="pen" style="left:696.4px;top:795.0px"><svg width="18" height="18"><defs><linearGradient id="pg" x1="0" y1="0" x2="0" y2="1"><stop offset="0" stop-color="#e4e6e4"/><stop offset="1" stop-color="#c0beb6"/></linearGradient><linearGradient id="pb" x1="0" y1="0" x2="1" y2="1"><stop offset="0" stop-color="#e2e4e2"/><stop offset="1" stop-color="#fafaf8"/></linearGradient></defs><rect x="2.5" y="2.5" width="13.5" height="13" fill="url(#pb)"/><g transform="rotate(-47 9.5 9.5)"><path d="M2 9.5Q2 6.2 6 6.2L14.5 6.2Q17 6.5 17 9.5Q17 12.5 14.5 12.8L6 12.8Q2 12.8 2 9.5Z" fill="url(#pg)"/><path d="M14 6.4Q17 6.8 17 9.5Q17 12.2 14 12.6" stroke="#9a9588" stroke-width="1" fill="none"/><path d="M2 9.5L4.4 7.8L4.4 11.2Z" fill="#7e7a6e"/></g></svg></div>
<div class="cb" style="left:718.9px;top:801.0px"></div>
<div class="t" style="left:731.9px;top:799.0px">Radiating</div>
<div class="nb cl" style="left:794.7px;top:794.0px;width:56px;height:20px;line-height:20px">Clear</div>
<div class="nt" style="left:594.4px;top:822.0px;width:256px;height:45px"><div class="t" style="left:2px;top:3px;color:#2a2a2a"></div></div>
</div>
<div class="a" style="left:1007px;top:58px;width:13px;height:693px;background:#f0f0f0"></div>
<div class="a" style="left:1008px;top:70px;width:10.5px;height:155px;background:#cdcdcd"></div>
<svg class="a" style="left:1008px;top:45px" width="8" height="6"><path d="M1 0.5L7 5.5M7 0.5L1 5.5" stroke="#4e7898" stroke-width="1"/></svg>
<svg class="a" style="left:1009px;top:61px" width="9" height="6"><path d="M1 5L4.5 1.5L8 5" stroke="#555" stroke-width="1.3" fill="none"/></svg>
<svg class="a" style="left:1009px;top:740px" width="9" height="6"><path d="M1 1L4.5 4.5L8 1" stroke="#555" stroke-width="1.3" fill="none"/></svg>
<div class="nb" style="top:75.0px">Patient Chart</div>
<div class="nb" style="top:101.3px">Complaints</div>
<div class="nb" style="top:127.7px">Diagnosis</div>
<div class="nb" style="top:154.0px">Palpation</div>
<div class="nb" style="top:180.3px">ADJ / TX</div>
<div class="nb" style="top:206.6px">Assessment</div>
<div class="nb" style="top:233.0px">Plan</div>
<div class="nb" style="top:259.3px">Extremities</div>
<div class="nb" style="top:285.6px">Neck</div>
<div class="nb" style="top:312.0px;background:linear-gradient(#6ed86e,#46cc46 45%,#2ec02e);color:#2e8e2e">Low Back</div>
<div class="nb" style="top:338.3px">Muscle Strength</div>
<div class="nb" style="top:364.6px">Posture</div>
<div class="nb" style="top:391.0px">Reflexes</div>
<div class="nb" style="top:417.3px">ROM</div>
<div class="nb" style="top:443.6px">Sensation</div>
<div class="nb" style="top:469.9px">Vital Signs</div>
<div class="nb" style="top:496.3px">Radiology</div>
<div class="nb" style="top:522.6px">S.T.I.M.</div>
<div class="nb" style="top:548.9px">ROS</div>
<div class="nb" style="top:575.3px">AK</div>
<div class="nb" style="top:601.6px">SOT</div>
<div class="nb" style="top:627.9px">Neurology</div>
<svg class="a" style="left:8px;top:728px" width="110" height="18"><g fill="none" stroke="#dceaf6" stroke-width="1.4"><rect x="5.7" y="2.7" width="7.6" height="4" rx="0.8"/><path d="M5.5 12.2H3.3Q2.7 12.2 2.7 11.5V6.5Q2.7 5.9 3.3 5.9H15.7Q16.3 5.9 16.3 6.5V11.5Q16.3 12.2 15.7 12.2H13.5"/><rect x="6.2" y="9" width="6.8" height="6.2"/><path d="M7.5 11.2H11.5M7.5 13.2H11.5" stroke-width="1"/><path d="M31.5 5.5L32.5 6.5L34.5 4.2M31.5 8.5L32.5 9.5L34.5 7.2M31.5 11.5L32.5 12.5L34.5 10.2" stroke-width="1.1"/><path d="M35.5 6H45M35.5 9H46M35.5 12H45" stroke-width="1.3" stroke="#c4d8ea"/><path d="M62.9 8.6A4.6 4.6 0 0 1 70.75 5.25M72.1 8.4A4.6 4.6 0 0 1 64.25 11.75" stroke-width="2"/></g><path d="M73.5 2.8L73.5 7.9L68.6 7.9Z" fill="#dceaf6"/><path d="M61.5 14.2L61.5 9.1L66.4 9.1Z" fill="#dceaf6"/><path d="M90.5 9H101.5M97.5 4.6L101.9 9L97.5 13.4" fill="none" stroke="#eef4fa" stroke-width="2.4"/></svg></body></html>
